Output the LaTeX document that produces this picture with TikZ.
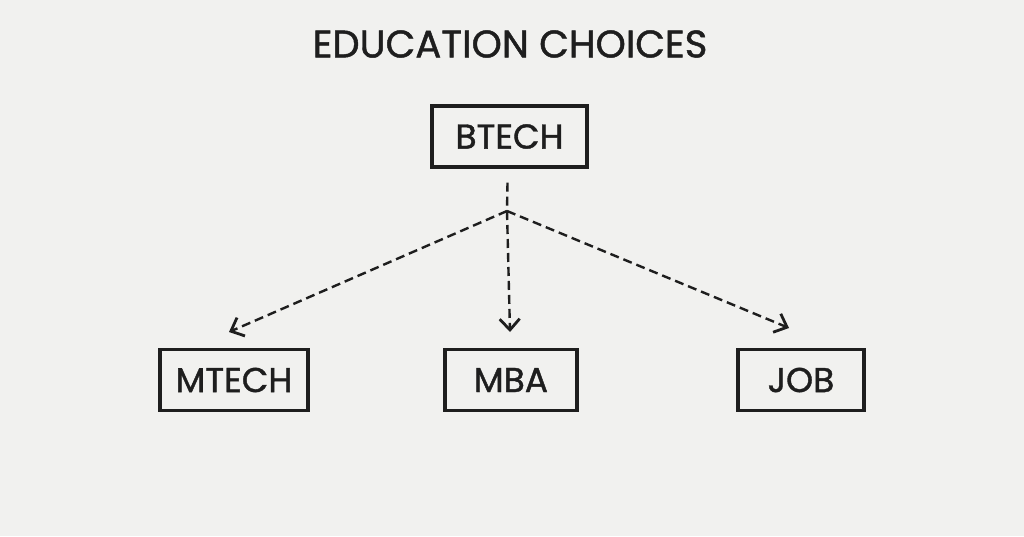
\documentclass[tikz,border=0pt]{standalone}
\usepackage{fontspec}
\setmainfont{Poppins}
\newfontfamily\labelfont{Poppins}[FakeBold=1.2]
\usetikzlibrary{arrows.meta,calc}
\definecolor{paper}{HTML}{F1F1EF}
\definecolor{ink}{HTML}{1E1E1E}
\tikzset{
  box/.style={draw=ink, line width=3.2pt, minimum height=61pt, inner sep=0pt, text=ink, font=\labelfont\fontsize{34.5}{38}\selectfont},
  link/.style={draw=ink, line width=2.4pt, dash pattern=on 9pt off 5pt},
  arr/.style={link, -{Straight Barb[length=11pt,width=20pt,line width=2.8pt]}}
}
\begin{document}
\begin{tikzpicture}[x=1pt,y=-1pt]
\fill[paper] (0,0) rectangle (1024,536);
\useasboundingbox (0,0) rectangle (1024,536);
\node[text=ink, font=\labelfont\fontsize{38.5}{42}\selectfont] (title) at (510,44) {EDUCATION CHOICES};
\node[box, minimum width=155pt] (btech) at (509.5,136.5) {BTECH};
\node[box, minimum width=148pt] (mtech) at (234,380) {MTECH};
\node[box, minimum width=132pt] (mba) at (511,380) {MBA};
\node[box, minimum width=126pt] (job) at (801,380) {JOB};
\coordinate (j) at (507,211);
\coordinate (e1) at (229,332);
\coordinate (e2) at (510,332);
\coordinate (e3) at (789,328);
\draw[link] ($(btech.south)+(-2,14)$) -- (j);
\draw[arr] (j) -- (e1);
\draw[arr] (j) -- (e2);
\draw[arr] (j) -- (e3);
\end{tikzpicture}
\end{document}
